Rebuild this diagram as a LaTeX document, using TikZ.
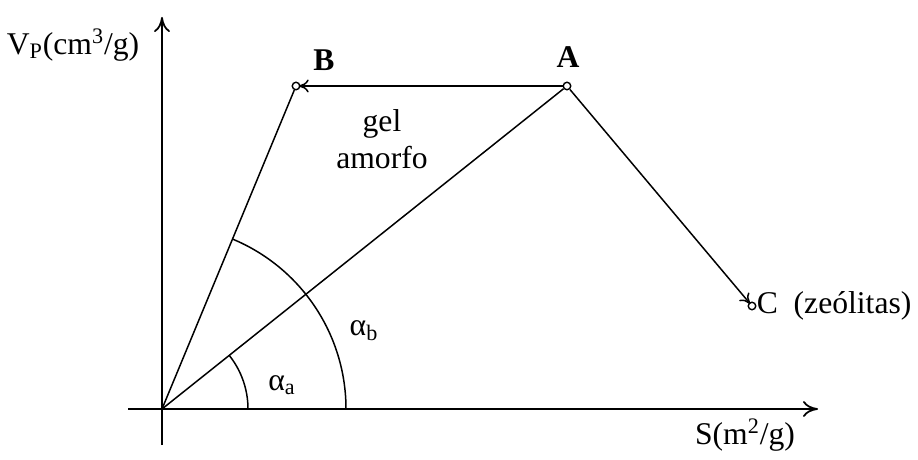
\documentclass[tikz,border=0pt]{standalone}
\usepackage{fontspec}
\setmainfont{Liberation Serif}
\usetikzlibrary{arrows.meta, calc}
\tikzset{
  axis/.style={-{To[length=3mm, width=3.2mm]}, line width=1pt},
  seg/.style={line width=0.85pt},
  arr/.style={-{To[length=2mm, width=2.6mm]}, line width=0.85pt, shorten >=-1pt},
  pt/.style={circle, draw, line width=0.8pt, inner sep=0pt, minimum size=0.15cm, fill=white},
  lbl/.style={font=\fontsize{18}{21}\selectfont, inner sep=1pt},
  blbl/.style={font=\fontsize{18}{21}\selectfont\bfseries, inner sep=1pt},
}
\begin{document}
\begin{tikzpicture}
  \useasboundingbox (-3.24,-1.0) rectangle (15.12,8.18);
  % axes
  \coordinate (O) at (0,0);
  \coordinate (xs) at (-0.68,0);
  \coordinate (xe) at (13.12,0);
  \coordinate (ys) at (0,-0.72);
  \coordinate (ye) at (0,7.84);
  \draw[axis] (xs) -- (xe);
  \draw[axis] (ys) -- (ye);
  \node[lbl] (vlab) at (-1.78,7.28) {V\textsubscript{P}(cm\textsuperscript{3}/g)};
  \node[lbl] (slab) at (11.66,-0.52) {S(m\textsuperscript{2}/g)};
  % points
  \node[pt] (B) at (2.68,6.46) {};
  \node[pt] (A) at (8.10,6.46) {};
  \node[pt] (C) at (11.80,2.06) {};
  \node[blbl] (Blab) at (3.24,6.98) {B};
  \node[blbl] (Alab) at (8.12,7.04) {A};
  \node[lbl, anchor=west] (Clab) at ([xshift=-1pt]C.east) {C\ \ (zeólitas)};
  \node[lbl, align=center] (gel) at (4.40,5.40) {gel\\amorfo};
  % lines
  \draw[seg] (O) -- (B);
  \draw[seg] (O) -- (A);
  \draw[arr] (A) -- (B);
  \draw[arr] (A) -- (C);
  % angles
  \draw[seg] (1.72,0) arc[start angle=0, end angle=38.6, radius=1.72];
  \draw[seg] (3.68,0) arc[start angle=0, end angle=67.5, radius=3.68];
  \node[lbl] (aa) at (2.40,0.48) {α\textsubscript{a}};
  \node[lbl] (ab) at (4.04,1.56) {α\textsubscript{b}};
\end{tikzpicture}
\end{document}
